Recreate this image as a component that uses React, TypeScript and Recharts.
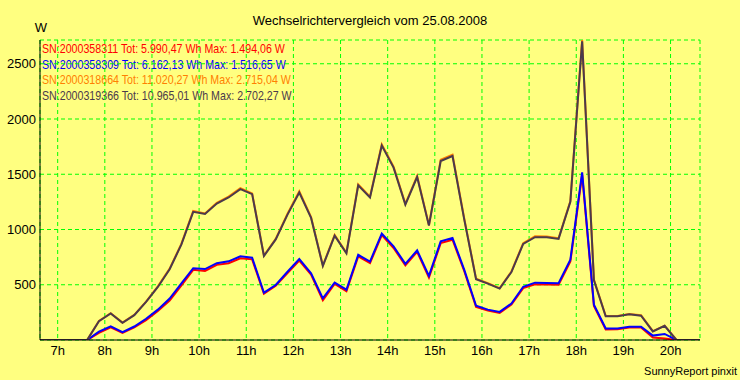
import React from 'react';
import { LineChart, Line, XAxis, YAxis, CartesianGrid } from 'recharts';

// quarter-hour readings, time in decimal hours
const hours = [
  6.625, 6.875, 7.125, 7.375, 7.625, 7.875, 8.125, 8.375, 8.625, 8.875,
  9.125, 9.375, 9.625, 9.875, 10.125, 10.375, 10.625, 10.875, 11.125, 11.375,
  11.625, 11.875, 12.125, 12.375, 12.625, 12.875, 13.125, 13.375, 13.625, 13.875,
  14.125, 14.375, 14.625, 14.875, 15.125, 15.375, 15.625, 15.875, 16.125, 16.375,
  16.625, 16.875, 17.125, 17.375, 17.625, 17.875, 18.125, 18.375, 18.625, 18.875,
  19.125, 19.375, 19.625, 19.875, 20.125, 20.375, 20.625,
];

const sn311 = [
  0, 0, 0, 0, 0, 65, 115, 65, 115, 180,
  262, 358, 495, 635, 625, 680, 695, 740, 730, 418,
  490, 606, 718, 592, 360, 508, 442, 757, 696, 950,
  833, 676, 798, 565, 877, 908, 622, 300, 266, 245,
  320, 470, 505, 502, 500, 710, 1494.06, 308, 96, 98,
  112, 114, 22, 14, 0, 0, 0,
];

const sn309 = [
  0, 0, 0, 0, 0, 75, 123, 72, 122, 192,
  275, 375, 512, 650, 642, 695, 712, 757, 745, 428,
  498, 618, 733, 604, 377, 519, 455, 771, 710, 963,
  847, 689, 811, 580, 893, 924, 635, 310, 275, 254,
  330, 482, 519, 515, 513, 726, 1516.65, 320, 105, 105,
  120, 120, 40, 55, 0, 0, 0,
];

const sn664 = [
  0, 0, 0, 0, 0, 172, 243, 157, 228, 348,
  485, 646, 872, 1168, 1146, 1242, 1298, 1374, 1327, 765,
  915, 1143, 1346, 1112, 674, 950, 790, 1408, 1296, 1771,
  1568, 1232, 1484, 1040, 1632, 1678, 1097, 555, 514, 468,
  620, 877, 938, 937, 921, 1258, 2715.04, 546, 217, 217,
  236, 224, 80, 130, 0, 0, 0,
];

const sn366 = [
  0, 0, 0, 0, 0, 170, 240, 155, 225, 345,
  480, 640, 865, 1160, 1140, 1235, 1290, 1365, 1320, 760,
  910, 1135, 1335, 1105, 670, 945, 785, 1400, 1290, 1760,
  1560, 1225, 1475, 1035, 1620, 1665, 1090, 550, 510, 465,
  615, 870, 930, 930, 915, 1250, 2702.27, 540, 214, 214,
  232, 220, 78, 128, 0, 0, 0,
];

const hourTicks = [7, 8, 9, 10, 11, 12, 13, 14, 15, 16, 17, 18, 19, 20];
const wattTicks = [500, 1000, 1500, 2000, 2500];

const legendLines = [
  { text: 'SN:2000358311 Tot: 5.990,47 Wh Max: 1.494,06 W', color: '#ff0000' },
  { text: 'SN:2000358309 Tot: 6.162,13 Wh Max: 1.516,65 W', color: '#0000ff' },
  { text: 'SN:2000318664 Tot: 11.020,27 Wh Max: 2.715,04 W', color: '#ff8000' },
  { text: 'SN:2000319366 Tot: 10.965,01 Wh Max: 2.702,27 W', color: '#4b3a4b' },
];

const data = hours.map((t, i) => ({
  t,
  a: sn311[i],
  b: sn309[i],
  c: sn664[i],
  d: sn366[i],
}));

const font = '"Liberation Sans", Arial, sans-serif';
const tickStyle = { fontSize: 13, fill: '#000', fontFamily: font };

export default function App() {
  return (
    <div style={{ position: 'absolute', left: 0, top: 0, width: 740, height: 380, background: '#ffff80' }}>
      <svg width={740} height={380} style={{ position: 'absolute', left: 0, top: 0 }}>
        <text x={370} y={25} textAnchor="middle" fontSize={13} fontFamily={font} fill="#000">
          Wechselrichtervergleich vom 25.08.2008
        </text>
        <text x={41} y={32} textAnchor="middle" fontSize={13} fontFamily={font} fill="#000">W</text>
        {/* legend font is a narrow sans, squeeze Liberation Sans horizontally */}
        <g transform="translate(42,0) scale(0.82,1)">
          {legendLines.map((l, i) => (
            <text key={l.text} x={0} y={53.5 + i * 15.5} fontSize={13} fontFamily={font} fill={l.color}>
              {l.text}
            </text>
          ))}
        </g>
        <text x={737} y={375} textAnchor="end" fontSize={11} fontFamily={font} fill="#000">
          SunnyReport pinxit
        </text>
      </svg>
      <div style={{ position: 'absolute', left: 0, top: 0 }}>
        <LineChart width={740} height={380} data={data}
          margin={{ top: 40, right: 40, left: 0, bottom: 0 }}>
          <CartesianGrid stroke="#00ff00" strokeDasharray="4 3" />
          <XAxis dataKey="t" type="number" domain={[6.625, 20.625]} ticks={hourTicks}
            allowDataOverflow tickFormatter={(v) => `${v}h`} height={40}
            tick={tickStyle} tickLine={false} tickSize={0} tickMargin={6}
            axisLine={{ stroke: '#000' }} />
          <XAxis xAxisId="top" orientation="top" height={0} tick={false} tickLine={false}
            axisLine={{ stroke: '#000' }} />
          <YAxis type="number" domain={[0, 2715.04]} ticks={wattTicks} allowDataOverflow
            width={40} tick={tickStyle} tickLine={false} tickSize={0} tickMargin={4}
            axisLine={{ stroke: '#000' }} />
          <YAxis yAxisId="right" orientation="right" width={0} tick={false} tickLine={false}
            axisLine={{ stroke: '#000' }} />
          <Line type="linear" dataKey="a" stroke="#ff0000" strokeWidth={2} dot={false} isAnimationActive={false} />
          <Line type="linear" dataKey="b" stroke="#0000ff" strokeWidth={2} dot={false} isAnimationActive={false} />
          <Line type="linear" dataKey="c" stroke="#ff8000" strokeWidth={2} dot={false} isAnimationActive={false} />
          <Line type="linear" dataKey="d" stroke="#4b3a4b" strokeWidth={2} dot={false} isAnimationActive={false} />
        </LineChart>
      </div>
    </div>
  );
}
